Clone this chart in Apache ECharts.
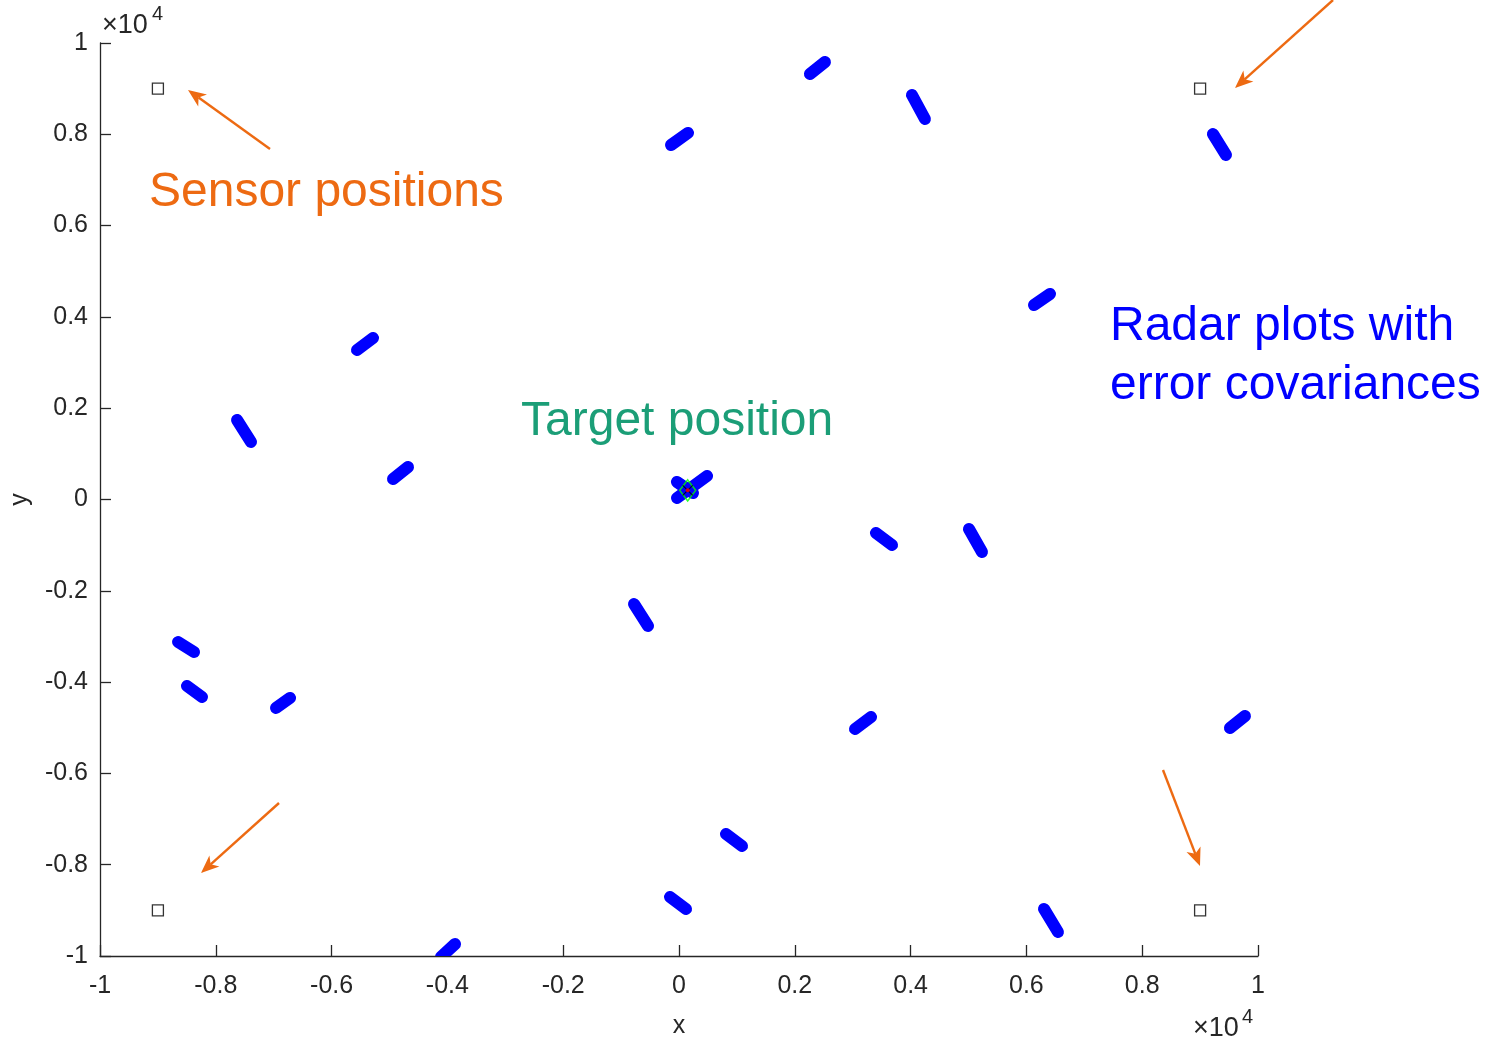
<!DOCTYPE html>
<html>
<head>
<meta charset="utf-8">
<script src="https://cdn.jsdelivr.net/npm/echarts@6/dist/echarts.min.js"></script>
<style>
  html, body { margin: 0; padding: 0; background: #ffffff; }
  #main { width: 1491px; height: 1045px; }
</style>
</head>
<body>
<div id="main"></div>
<script>
// Axis range and ticks (metres; tick labels shown in units of 1e4)
const axisMin = -10000;
const axisMax = 10000;
const tickStep = 2000;

// Sensor (radar) positions
const sensorX = [-9000, 9000, -9000, 9000];
const sensorY = [9000, 9000, -9000, -9000];

// True target position
const targetX = [150];
const targetY = [200];

// Radar plots: major axis of each error-covariance ellipse, as end points
const ellipseX1 = [2262, 4024, -138, 9222, 6131, -5561, -7633, -4939, -35, -35, 3402, 5008, -777, -8652, -8497, -6960, 3040, 9516, 812, -155, 6304, -4110];
const ellipseY1 = [9321, 8861, 7766, 8007, 4261, 3275, 1742, 449, 383, 33, -734, -646, -2289, -3122, -4085, -4567, -5027, -5005, -7328, -8708, -8970, -10022];
const ellipseX2 = [2521, 4248, 155, 9447, 6407, -5285, -7392, -4680, 242, 484, 3679, 5233, -535, -8376, -8238, -6718, 3316, 9775, 1088, 121, 6545, -3868];
const ellipseY2 = [9584, 8335, 8029, 7547, 4502, 3538, 1260, 712, 142, 515, -997, -1150, -2771, -3341, -4326, -4348, -4765, -4743, -7590, -8970, -9474, -9737];

const FONT = '"Liberation Sans", Arial, Helvetica, sans-serif';
const AXIS_COLOR = '#262626';
const ORANGE = '#ED6A12';
const TEAL = '#1B9E77';
const BLUE = '#0000FF';

const ellipseData = ellipseX1.map((x, i) => [x, ellipseY1[i], ellipseX2[i], ellipseY2[i]]);
const sensorData = sensorX.map((x, i) => [x, sensorY[i]]);
const targetData = targetX.map((x, i) => [x, targetY[i]]);

const chart = echarts.init(document.getElementById('main'), null, { renderer: 'canvas' });

function tickLabel(v) {
  return String(Math.round(v / 1000) / 10);
}

function axisCommon(labelMargin, name, nameGap) {
  return {
    type: 'value',
    min: axisMin,
    max: axisMax,
    interval: tickStep,
    splitLine: { show: false },
    axisLine: { show: true, onZero: false, lineStyle: { color: AXIS_COLOR, width: 1.3 } },
    axisTick: { show: true, inside: true, length: 11, lineStyle: { color: AXIS_COLOR, width: 1.3 } },
    axisLabel: { color: AXIS_COLOR, fontSize: 25, fontFamily: FONT, formatter: tickLabel, margin: labelMargin },
    name: name,
    nameGap: nameGap,
    nameLocation: 'middle',
    nameTextStyle: { color: AXIS_COLOR, fontSize: 25, fontFamily: FONT }
  };
}

// Arrow annotations: [startX, startY, tipX, tipY] in page pixels
const arrows = [
  [270, 149, 188, 90],
  [1333, 0, 1235, 88],
  [279, 803, 201, 873],
  [1163, 770, 1200, 866]
];

function arrowGraphic(a) {
  const [sx, sy, ex, ey] = a;
  const dx = ex - sx, dy = ey - sy;
  const len = Math.hypot(dx, dy);
  const ux = dx / len, uy = dy / len;
  const nx = -uy, ny = ux;
  const L = 18, W = 15, notch = 13;
  const bx = ex - ux * L, by = ey - uy * L;
  const mx = ex - ux * notch, my = ey - uy * notch;
  return {
    type: 'group',
    children: [
      { type: 'line', shape: { x1: sx, y1: sy, x2: mx, y2: my }, style: { stroke: ORANGE, lineWidth: 2.4 } },
      { type: 'polygon', shape: { points: [[ex, ey], [bx + nx * W / 2, by + ny * W / 2], [mx, my], [bx - nx * W / 2, by - ny * W / 2]] }, style: { fill: ORANGE } }
    ]
  };
}

function textGraphic(text, x, y, color, size, align) {
  return {
    type: 'text',
    style: { text: text, x: x, y: y, fill: color, font: size + 'px ' + FONT, textAlign: align || 'left', textVerticalAlign: 'middle' }
  };
}

const graphics = arrows.map(arrowGraphic).concat([
  textGraphic('Sensor positions', 149, 193, ORANGE, 48),
  textGraphic('Target position', 521, 422, TEAL, 48),
  textGraphic('Radar plots with', 1110, 327, BLUE, 48),
  textGraphic('error covariances', 1110, 386, BLUE, 48),
  // exponent labels for both axes
  textGraphic('\u00d710', 102, 26, AXIS_COLOR, 27),
  textGraphic('4', 152, 14, AXIS_COLOR, 20),
  textGraphic('\u00d710', 1193, 1029, AXIS_COLOR, 27),
  textGraphic('4', 1242, 1017, AXIS_COLOR, 20)
]);

const option = {
  animation: false,
  backgroundColor: '#ffffff',
  grid: { left: 100, right: 233, top: 43, bottom: 89, containLabel: false, outerBoundsMode: 'none' },
  xAxis: axisCommon(18, 'x', 58),
  yAxis: axisCommon(12, 'y', 67),
  series: [
    {
      type: 'custom',
      name: 'Radar plots',
      data: ellipseData,
      encode: { x: [0, 2], y: [1, 3] },
      clip: true,
      renderItem: function (params, api) {
        const p1 = api.coord([api.value(0), api.value(1)]);
        const p2 = api.coord([api.value(2), api.value(3)]);
        return {
          type: 'line',
          shape: { x1: p1[0], y1: p1[1], x2: p2[0], y2: p2[1] },
          style: { stroke: BLUE, lineWidth: 12, lineCap: 'round' }
        };
      }
    },
    {
      type: 'scatter',
      name: 'Sensors',
      data: sensorData,
      symbol: 'rect',
      symbolSize: 11,
      itemStyle: { color: 'rgba(0,0,0,0)', borderColor: '#000000', borderWidth: 1.3 }
    },
    {
      type: 'scatter',
      name: 'Target',
      data: targetData,
      symbol: 'diamond',
      symbolSize: [16, 21],
      itemStyle: { color: 'rgba(0,0,0,0)', borderColor: '#00FF00', borderWidth: 1.6 }
    },
    {
      type: 'scatter',
      name: 'Target cross',
      data: targetData,
      symbol: 'path://M0,0L10,10M10,0L0,10',
      symbolSize: 10,
      itemStyle: { color: 'rgba(0,0,0,0)', borderColor: '#000000', borderWidth: 1.3 }
    },
    {
      type: 'scatter',
      name: 'Target point',
      data: targetData,
      symbol: 'circle',
      symbolSize: 4,
      itemStyle: { color: '#FF0000' }
    }
  ],
  graphic: graphics
};

chart.setOption(option);
</script>
</body>
</html>
